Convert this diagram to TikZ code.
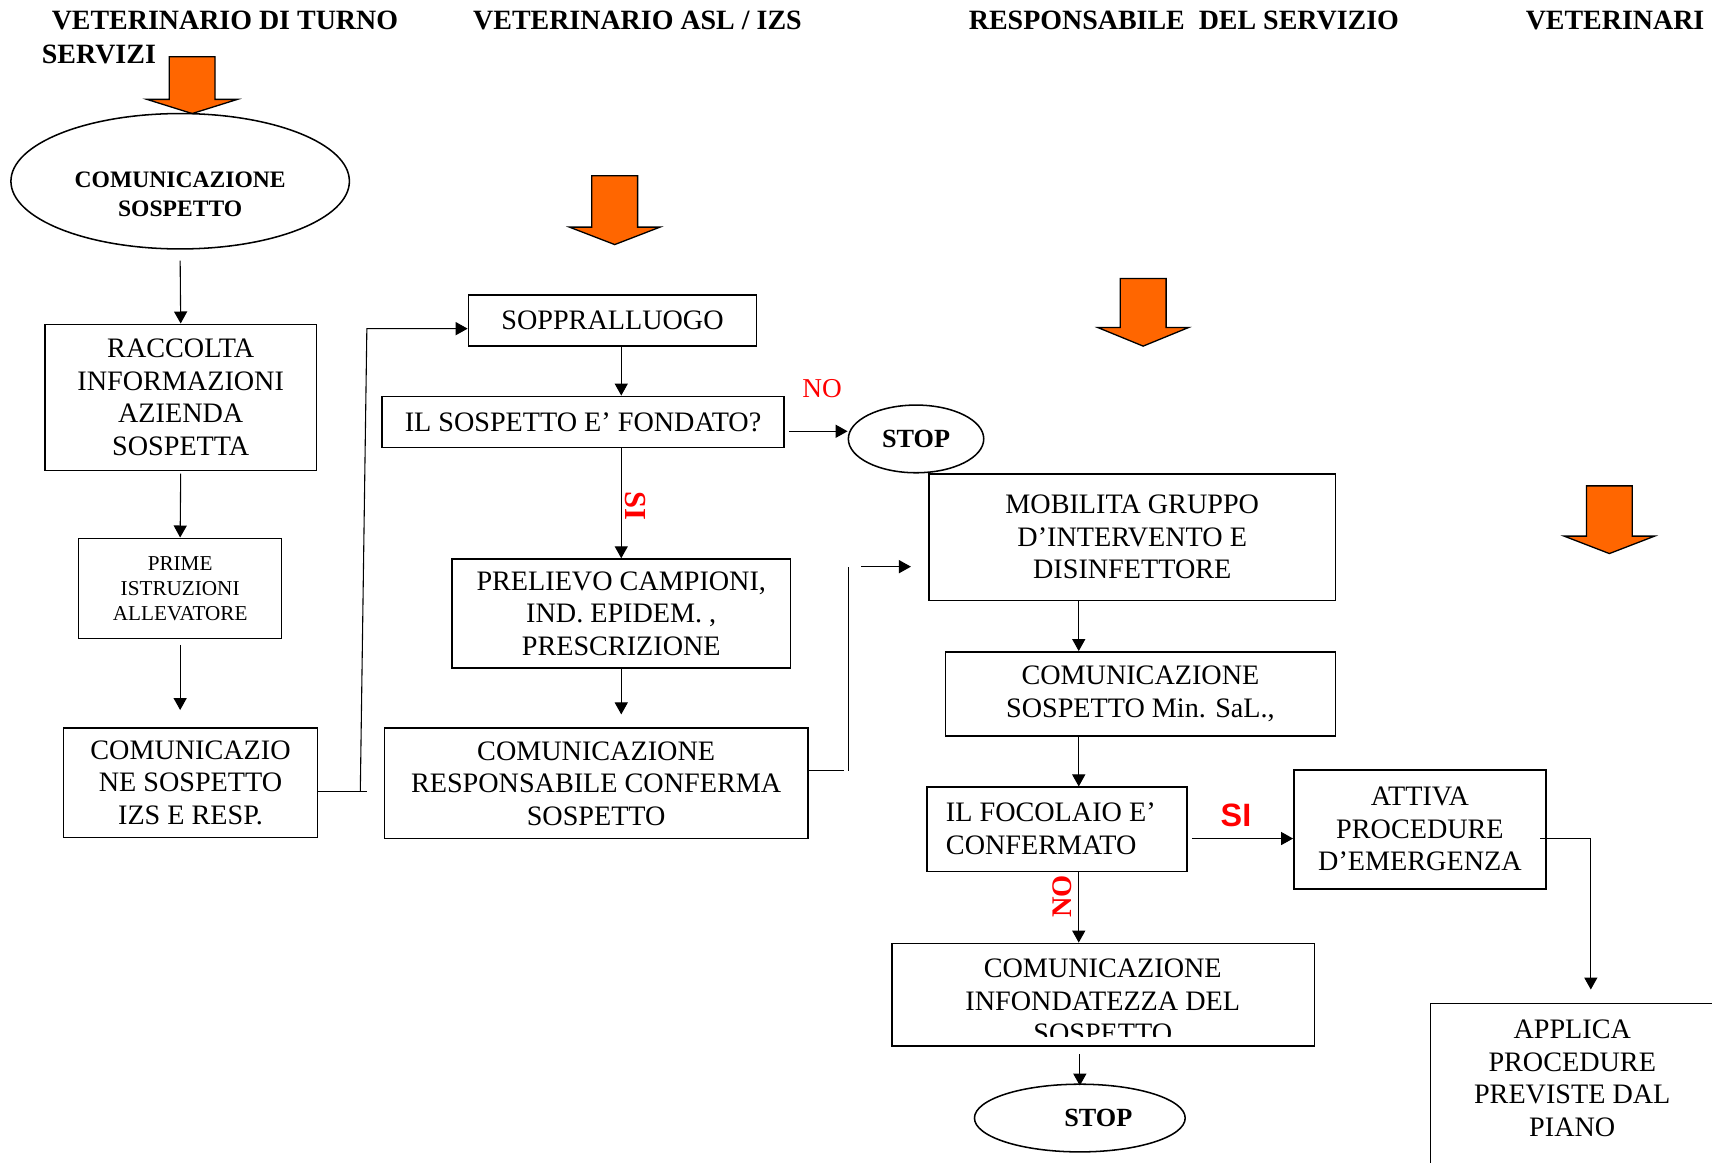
\documentclass[tikz,border=0pt]{standalone}
\usepackage{fontspec}
\setmainfont{Liberation Serif}
\newfontfamily\mySansFont{Liberation Sans}
\usetikzlibrary{shapes.geometric,arrows.meta,calc}
\definecolor{arrowor}{HTML}{FF6600}
\newcommand\myBody{\fontsize{12.9}{14.9}\selectfont}
\newcommand\orangeArrow[4]{%
  \filldraw[fill=arrowor, draw=black, line width=0.6pt]
    ({#1-21},#2) -- ({#1+21},#2) -- ({#1+21},#3) -- ({#1+41.5},#3) --
    (#1,#4) -- ({#1-41.5},#3) -- ({#1-21},#3) -- cycle;}
% \flowBox[options]{name}{x1}{y1}{x2}{y2}{text}
\newcommand\flowBox[7][]{%
  \node[box, minimum width={(#5-#3)*0.5pt}, minimum height={(#6-#4)*0.5pt}, #1]
    (#2) at ({(#3+#5)/2},{(#4+#6)/2}) {#7};}
\begin{document}
\begin{tikzpicture}[x=0.5pt,y=-0.5pt,
  box/.style={draw, rectangle, line width=0.7pt, inner sep=0pt, align=center, font=\myBody},
  ell/.style={draw, ellipse, line width=0.7pt, inner sep=0pt},
  hdr/.style={inner sep=0pt, anchor=base west, font=\fontsize{12.8}{15}\selectfont\bfseries},
  txt/.style={inner sep=0pt, align=center, font=\myBody},
  line/.style={line width=0.5pt},
  conn/.style={line width=0.5pt, -{Triangle[length=5.5pt,width=6pt]}},
  redlbl/.style={inner sep=0pt, text=red}
]
\useasboundingbox (0,0) rectangle (1568,1065);

% headers
\node[hdr] (h1) at (47,27) {VETERINARIO DI TURNO};
\node[hdr] (h2) at (38,58) {SERVIZI};
\node[hdr] (h3) at (433,27) {VETERINARIO ASL / IZS};
\node[hdr] (h4) at (887,27) {RESPONSABILE\ \ DEL SERVIZIO};
\node[hdr] (h5) at (1397,27) {VETERINARI};

% orange block arrows
\orangeArrow{176}{52}{91}{104}
\orangeArrow{563}{161}{208}{224}
\orangeArrow{1047}{255}{300}{317}
\orangeArrow{1474}{445}{491}{507}

% column 1
\node[ell, minimum width=155pt, minimum height=62pt] (ell1) at (165,166) {};
\node[txt, font=\fontsize{10.8}{13.5}\selectfont\bfseries] (ell1t) at (165,178) {COMUNICAZIONE\\SOSPETTO};
\flowBox{raccolta}{41}{297}{290}{431}{RACCOLTA\\INFORMAZIONI\\AZIENDA\\SOSPETTA}
\flowBox[font=\fontsize{9.7}{11.5}\selectfont]{prime}{72}{493}{258}{585}{PRIME\\ISTRUZIONI\\ALLEVATORE}
\flowBox{comA}{58}{667}{291}{767}{COMUNICAZIO\\NE SOSPETTO\\IZS E RESP.}

% column 2
\flowBox{sopp}{429}{270}{693}{317}{SOPPRALLUOGO}
\flowBox{fond}{350}{363}{718}{410}{IL SOSPETTO E’ FONDATO?}
\node[ell, minimum width=62pt, minimum height=31pt, font=\fontsize{12}{14}\selectfont\bfseries] (stop1) at (839,402) {STOP};
\flowBox{prel}{414}{512}{724}{612}{PRELIEVO CAMPIONI,\\IND. EPIDEM. ,\\PRESCRIZIONE}
\flowBox{comR}{352}{667}{740}{768}{COMUNICAZIONE\\RESPONSABILE CONFERMA\\SOSPETTO}

% column 3
\flowBox{mob}{851}{434}{1223}{550}{MOBILITA GRUPPO\\D’INTERVENTO E\\DISINFETTORE}
\flowBox{comM}{866}{597}{1223}{674}{COMUNICAZIONE\\SOSPETTO Min. SaL.,}
\flowBox{foc}{849}{721}{1087}{798}{}
\node[txt, align=left, anchor=west] (foct) at (866,759) {IL FOCOLAIO E’\\CONFERMATO};
\flowBox{attiva}{1185}{705}{1416}{814}{ATTIVA\\PROCEDURE\\D’EMERGENZA}
\flowBox{infond}{817}{864}{1204}{958}{}
\begin{scope}
  \clip (817,864) rectangle (1204,949.5);
  \node[txt] (infondt) at (1010,917) {COMUNICAZIONE\\INFONDATEZZA DEL\\SOSPETTO};
\end{scope}
\node[ell, minimum width=96.5pt, minimum height=31pt] (stop2) at (989,1024) {};
\node[inner sep=0pt, font=\fontsize{12}{14}\selectfont\bfseries] (stop2t) at (1006,1024) {STOP};

% column 4
\flowBox{applica}{1310}{919}{1620}{1130}{}
\node[txt] (applicat) at (1440,987.5) {APPLICA\\PROCEDURE\\PREVISTE DAL\\PIANO};

% connectors
\coordinate (colR) at (988,0);
\draw[conn] ([yshift=-5pt]ell1.south) -- (raccolta.north);
\draw[conn] ([yshift=-1pt]raccolta.south) -- (prime.north);
\draw[conn] ([yshift=-2.5pt]prime.south) -- ([yshift=8pt]prime.south |- comA.north);

\coordinate (c4a) at (336,725);
\coordinate (c4b) at (330,725);
\coordinate (c4c) at (336,301);
\draw[line] (comA.east |- c4a) -- (c4a);
\draw[conn] (c4b) -- (c4c) -- (c4c -| sopp.west);

\draw[conn] (sopp.south -| prel.north) -- (fond.north -| prel.north);
\draw[conn] ([xshift=2pt,yshift=-4.25pt]fond.east) coordinate (n6) -- (n6 -| stop1.west);
\draw[conn] (fond.south -| prel.north) -- (prel.north);
\draw[conn] (prel.south) -- ([yshift=6pt]prel.south |- comR.north);

\draw[line] ([yshift=5.75pt]comR.east) -- ++(16pt,0);
\coordinate (v9a) at (777,706);
\coordinate (v9b) at (777,519);
\draw[line] (v9a) -- (v9b);
\coordinate (a9) at (789,519);
\draw[conn] (a9) -- ([xshift=-8pt]a9 -| mob.west);

\draw[conn] (mob.south -| colR) -- (comM.north -| colR);
\draw[conn] (comM.south -| colR) -- (foc.north -| colR);
\draw[conn] ([xshift=2pt,yshift=-4.25pt]foc.east) -- ([yshift=-4.25pt]attiva.west);
\coordinate (k13) at (1457,768);
\draw[conn] ([xshift=-3pt,yshift=-4.25pt]attiva.east) -- (k13) -- ([yshift=6pt]k13 |- applica.north);
\draw[conn] (foc.south -| colR) -- (infond.north -| colR);
\draw[conn] ([yshift=-3.5pt]infond.south -| stop2.north) -- ([yshift=-1pt]stop2.north);

% labels
\node[redlbl, font=\fontsize{12.5}{14}\selectfont] (no1) at (753,356) {NO};
\node[redlbl, rotate=-90, font=\fontsize{14}{16}\selectfont\bfseries] (si1) at (582,463) {SI};
\node[redlbl, rotate=90, font=\fontsize{13}{15}\selectfont\bfseries] (no2) at (973,821) {NO};
\node[redlbl, font=\fontsize{14.8}{16}\selectfont\mySansFont\bfseries] (si2) at (1132,747) {SI};
\end{tikzpicture}
\end{document}
